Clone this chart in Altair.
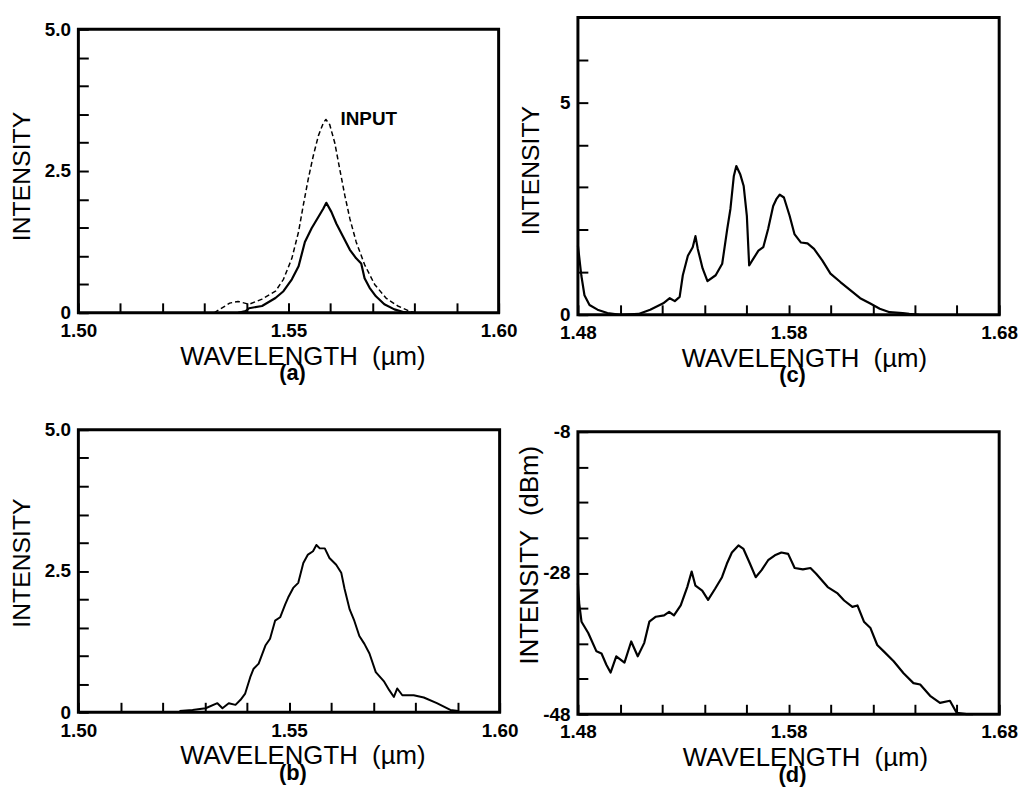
import altair as alt
import pandas as pd

# ---------------- data ----------------
# (a) input (dashed) and output (solid) spectra
a_in_wl = [1.5323, 1.5345, 1.5360, 1.5380, 1.5406, 1.5437, 1.5469, 1.5488, 1.5508,
           1.5524, 1.5535, 1.5547, 1.5559, 1.5571, 1.5583, 1.5589, 1.5598, 1.5610,
           1.5622, 1.5634, 1.5646, 1.5661, 1.5681, 1.5705, 1.5732, 1.5760, 1.5787, 1.5800]
a_in_int = [0.00, 0.10, 0.17, 0.20, 0.15, 0.24, 0.38, 0.59, 0.96,
            1.43, 1.89, 2.36, 2.77, 3.12, 3.35, 3.41, 3.32, 3.00,
            2.53, 2.07, 1.66, 1.25, 0.85, 0.50, 0.26, 0.12, 0.03, 0.00]
a_out_wl = [1.5380, 1.5398, 1.5406, 1.5437, 1.5469, 1.5488, 1.5508, 1.5524, 1.5539,
            1.5555, 1.5571, 1.5583, 1.5590, 1.5602, 1.5614, 1.5630, 1.5646, 1.5661,
            1.5673, 1.5681, 1.5693, 1.5708, 1.5728, 1.5752, 1.5775, 1.5800]
a_out_int = [0.00, 0.03, 0.08, 0.12, 0.26, 0.38, 0.59, 0.82, 1.25,
             1.49, 1.69, 1.84, 1.94, 1.78, 1.57, 1.34, 1.11, 0.96,
             0.87, 0.61, 0.44, 0.29, 0.15, 0.06, 0.01, 0.00]
a_label_wl = [1.5691]
a_label_int = [3.42]
a_label_text = ["INPUT"]

# (b)
b_wl = [1.5240, 1.5271, 1.5302, 1.5330, 1.5342, 1.5357, 1.5373, 1.5385, 1.5396,
        1.5408, 1.5416, 1.5428, 1.5444, 1.5455, 1.5467, 1.5479, 1.5491, 1.5498,
        1.5510, 1.5522, 1.5534, 1.5545, 1.5557, 1.5565, 1.5573, 1.5585, 1.5596,
        1.5612, 1.5624, 1.5632, 1.5644, 1.5655, 1.5667, 1.5679, 1.5691, 1.5706,
        1.5726, 1.5738, 1.5749, 1.5757, 1.5769, 1.5796, 1.5820, 1.5851, 1.5883, 1.5902]
b_int = [0.02, 0.04, 0.07, 0.16, 0.07, 0.16, 0.13, 0.22, 0.33,
         0.62, 0.77, 0.86, 1.18, 1.30, 1.62, 1.68, 1.91, 2.03,
         2.20, 2.29, 2.64, 2.79, 2.85, 2.96, 2.90, 2.90, 2.73,
         2.61, 2.47, 2.18, 1.82, 1.62, 1.35, 1.21, 1.04, 0.71,
         0.54, 0.39, 0.27, 0.42, 0.30, 0.30, 0.26, 0.16, 0.04, 0.02]

# (c)
c_wl = [1.4800, 1.4816, 1.4831, 1.4855, 1.4893, 1.4940, 1.5002, 1.5088, 1.5143,
        1.5205, 1.5236, 1.5260, 1.5283, 1.5298, 1.5322, 1.5345, 1.5358, 1.5369,
        1.5392, 1.5415, 1.5454, 1.5485, 1.5509, 1.5524, 1.5540, 1.5552, 1.5571,
        1.5587, 1.5602, 1.5613, 1.5633, 1.5657, 1.5680, 1.5703, 1.5727, 1.5742,
        1.5758, 1.5778, 1.5805, 1.5828, 1.5859, 1.5890, 1.5921, 1.5960, 1.5999,
        1.6046, 1.6093, 1.6140, 1.6186, 1.6233, 1.6280, 1.6342, 1.6373, 1.6420]
c_int = [1.63, 0.93, 0.46, 0.23, 0.12, 0.04, 0.00, 0.02, 0.12,
         0.27, 0.39, 0.32, 0.42, 0.93, 1.39, 1.59, 1.85, 1.55,
         1.09, 0.79, 0.93, 1.20, 2.02, 2.49, 3.26, 3.50, 3.30,
         3.03, 2.33, 1.16, 1.32, 1.51, 1.59, 2.02, 2.56, 2.72,
         2.83, 2.76, 2.33, 1.90, 1.70, 1.68, 1.55, 1.28, 0.97,
         0.77, 0.58, 0.39, 0.27, 0.14, 0.06, 0.04, 0.02, 0.00]

# (d) in dBm
d_wl = [1.4800, 1.4806, 1.4817, 1.4849, 1.4888, 1.4912, 1.4935, 1.4955, 1.4982,
        1.5021, 1.5053, 1.5084, 1.5115, 1.5139, 1.5170, 1.5209, 1.5233, 1.5256,
        1.5288, 1.5319, 1.5340, 1.5358, 1.5390, 1.5418, 1.5452, 1.5484, 1.5507,
        1.5531, 1.5562, 1.5586, 1.5617, 1.5644, 1.5672, 1.5703, 1.5735, 1.5766,
        1.5798, 1.5829, 1.5868, 1.5904, 1.5931, 1.5986, 1.6033, 1.6064, 1.6103,
        1.6127, 1.6158, 1.6189, 1.6221, 1.6252, 1.6299, 1.6346, 1.6393, 1.6425,
        1.6472, 1.6519, 1.6566, 1.6598, 1.6645, 1.6676]
d_int = [-29.5, -32.3, -34.9, -36.5, -39.1, -39.4, -41.0, -42.1, -39.8,
         -40.7, -37.7, -39.8, -37.9, -34.9, -34.2, -34.0, -33.5, -34.0,
         -32.6, -30.0, -27.8, -29.8, -30.5, -31.8, -30.2, -28.6, -26.7,
         -25.1, -24.1, -24.6, -26.7, -28.6, -27.6, -26.2, -25.5, -25.1,
         -25.3, -27.3, -27.5, -27.3, -28.1, -30.0, -30.9, -31.9, -32.8,
         -32.6, -34.9, -35.8, -38.2, -39.1, -40.5, -42.2, -43.6, -43.8,
         -45.4, -46.4, -46.1, -47.8, -48.0, -48.0]

# axis ticks and labels
ab_xticks = [1.50, 1.51, 1.52, 1.53, 1.54, 1.55, 1.56, 1.57, 1.58, 1.59, 1.60]
ab_xlabel_vals = [1.50, 1.55, 1.60]
ab_xlabels = ["1.50", "1.55", "1.60"]
ab_yticks = [0, 0.5, 1, 1.5, 2, 2.5, 3, 3.5, 4, 4.5, 5]
ab_ylabel_vals = [0, 2.5, 5]
ab_ylabels = ["0", "2.5", "5.0"]
cd_xticks = [1.48, 1.50, 1.52, 1.54, 1.56, 1.58, 1.60, 1.62, 1.64, 1.66, 1.68]
cd_xlabel_vals = [1.48, 1.58, 1.68]
cd_xlabels = ["1.48", "1.58", "1.68"]
c_yticks = [0, 1, 2, 3, 4, 5, 6]
c_ylabel_vals = [0, 5]
c_ylabels = ["0", "5"]
d_yticks = [-48, -43, -38, -33, -28, -23, -18, -13, -8]
d_ylabel_vals = [-48, -28, -8]
d_ylabels = ["-48", "-28", "-8"]

FONT = "Liberation Sans"
TICK = 10
XTITLE = "WAVELENGTH \u00a0(\u00b5m)"


def label_expr(vals, labels):
    parts = [f"abs(datum.value - ({v})) < 1e-6 ? '{l}'" for v, l in zip(vals, labels)]
    return " : ".join(parts) + " : ''"


def x_axis(ticks, lv, lt, title_x):
    return alt.Axis(values=ticks, tickCount=100, labelExpr=label_expr(lv, lt), tickSize=TICK,
                    tickWidth=2, tickColor="black", offset=-TICK, domain=False, grid=False,
                    labelFont=FONT, labelFontWeight="bold", labelFontSize=19, labelColor="black",
                    labelPadding=9, labelOverlap=False, labelFlush=False,
                    title=XTITLE, titleFont=FONT, titleFontSize=26,
                    titleFontWeight="normal", titleColor="black",
                    titleX=title_x, titleY=41)


def y_axis(ticks, lv, lt, title, title_x, title_y, title_size=25):
    return alt.Axis(values=ticks, tickCount=100, labelExpr=label_expr(lv, lt), tickSize=TICK,
                    tickWidth=2, tickColor="black", offset=-TICK, domain=False, grid=False,
                    labelFont=FONT, labelFontWeight="bold", labelFontSize=19, labelColor="black",
                    labelPadding=8, labelOverlap=False, labelFlush=False,
                    title=title, titleFont=FONT, titleFontSize=title_size,
                    titleFontWeight="normal", titleColor="black",
                    titleX=title_x, titleY=title_y)


def spacer(lift):
    return alt.Chart(alt.Data(values=[{}])).mark_rule(strokeOpacity=0, strokeWidth=1).encode(
        x=alt.value(0), x2=alt.value(10), y=alt.value(-lift))


def line_layer(df, xdom, ydom, xax, yax, dash=None, width=2.0):
    kw = dict(color="black", strokeWidth=width, strokeJoin="round")
    if dash:
        kw["strokeDash"] = dash
    return alt.Chart(df).mark_line(**kw).encode(
        x=alt.X("wl:Q", scale=alt.Scale(domain=xdom, nice=False, zero=False), axis=xax),
        y=alt.Y("v:Q", scale=alt.Scale(domain=ydom, nice=False, zero=False), axis=yax),
        order="i:Q")


def df_of(wl, v):
    return pd.DataFrame({"wl": wl, "v": v, "i": list(range(len(wl)))})


def ptitle(t):
    return alt.TitleParams(t, orient="bottom", font=FONT, fontSize=22, fontWeight="bold",
                           color="black", anchor="middle", dx=4, offset=-6)


# ---- panel (a)
ax_a = x_axis(ab_xticks, ab_xlabel_vals, ab_xlabels, 226)
ay_a = y_axis(ab_yticks, ab_ylabel_vals, ab_ylabels, "INTENSITY", -54, 148)
lab_df = pd.DataFrame({"wl": a_label_wl, "v": a_label_int, "t": a_label_text})
panel_a = alt.layer(
    line_layer(df_of(a_in_wl, a_in_int), [1.50, 1.60], [0, 5], ax_a, ay_a, dash=[5, 3], width=1.5),
    line_layer(df_of(a_out_wl, a_out_int), [1.50, 1.60], [0, 5], ax_a, ay_a, width=2.2),
    alt.Chart(lab_df).mark_text(font="Liberation Sans Narrow, Liberation Sans", fontWeight="bold",
                                fontSize=19, color="black", align="center", baseline="middle").encode(
        x=alt.X("wl:Q"), y=alt.Y("v:Q"), text="t:N"),
    spacer(15.5),
).properties(width=424, height=286, title=ptitle("(a)"))

# ---- panel (c)
ax_c = x_axis(cd_xticks, cd_xlabel_vals, cd_xlabels, 228)
ay_c = y_axis(c_yticks, c_ylabel_vals, c_ylabels, "INTENSITY", -45, 154)
panel_c = alt.layer(
    line_layer(df_of(c_wl, c_int), [1.48, 1.68], [0, 7], ax_c, ay_c, width=2.2),
    spacer(3.5),
).properties(width=425, height=300, title=ptitle("(c)"))

# ---- panel (b)
ax_b = x_axis(ab_xticks, ab_xlabel_vals, ab_xlabels, 226)
ay_b = y_axis(ab_yticks, ab_ylabel_vals, ab_ylabels, "INTENSITY", -54, 134)
panel_b = alt.layer(
    line_layer(df_of(b_wl, b_int), [1.50, 1.60], [0, 5], ax_b, ay_b, width=2.0),
    spacer(28),
).properties(width=425, height=285, title=ptitle("(b)"))

# ---- panel (d)
ax_d = x_axis(cd_xticks, cd_xlabel_vals, cd_xlabels, 229)
ay_d = y_axis(d_yticks, d_ylabel_vals, d_ylabels, "INTENSITY \u00a0(dBm)", -46, 124, 26)
panel_d = alt.layer(
    line_layer(df_of(d_wl, d_int), [1.48, 1.68], [-48, -8], ax_d, ay_d, width=2.2),
    spacer(42),
).properties(width=425, height=285, title=ptitle("(d)"))


def dummy():
    return alt.Chart(alt.Data(values=[{}])).mark_rule(strokeOpacity=0).encode(
        x=alt.value(0), x2=alt.value(1), y=alt.value(0)
    ).properties(width=1, height=1, view=alt.ViewBackground(strokeOpacity=0))


chart = alt.concat(
    dummy(), dummy(), panel_a, panel_c, panel_b, panel_d,
    columns=2,
    align={"row": "none", "column": "each"},
    spacing={"row": 0, "column": -5},
).properties(
    padding={"left": 0, "top": 0, "right": 0, "bottom": 0},
).configure(background="white").configure_view(stroke="black", strokeWidth=3)

chart.save("out.html", embed_options={"renderer": "svg", "actions": False})
